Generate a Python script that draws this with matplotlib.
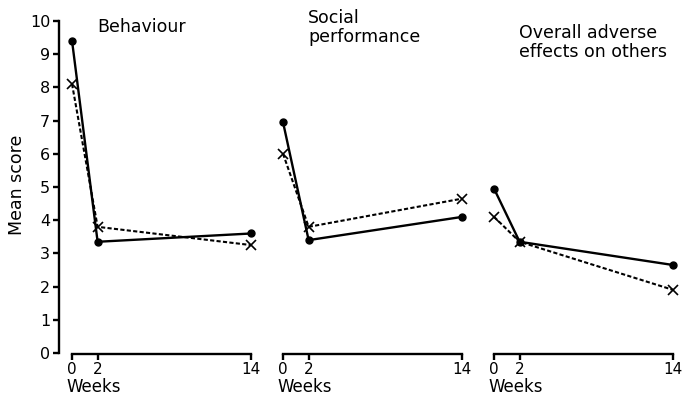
import matplotlib

matplotlib.use("Agg")
import matplotlib.pyplot as plt
from matplotlib.transforms import blended_transform_factory

weeks = [0, 2, 14]

titles = ["Behaviour", "Social\nperformance", "Overall adverse\neffects on others"]

# mean scores per panel: solid series (dots) and dashed series (crosses)
solid_scores = [
    [9.4, 3.35, 3.6],
    [6.95, 3.4, 4.1],
    [4.95, 3.35, 2.65],
]
dashed_scores = [
    [8.1, 3.8, 3.25],
    [6.0, 3.8, 4.65],
    [4.1, 3.35, 1.9],
]

y_ticks = list(range(0, 11))
x_ticks = [0, 2, 14]

plt.rcParams["font.family"] = ["DejaVu Sans"]

fig = plt.figure(figsize=(6.82, 4.01), dpi=100)
W, H = 682, 401
lefts = [58.6, 269.6, 480.6]
width = 199
bottom, height = 358, 347
title_tops = [0.98, 1.005, 0.962]

for i, left in enumerate(lefts):
    ax = fig.add_axes([left / W, (H - bottom) / H, width / W, height / H])
    ax.set_xlim(-1.05, 14.5)
    ax.set_ylim(-0.15, 10.3)

    ax.plot(weeks, solid_scores[i], color="black", lw=1.7, marker="o", ms=5,
            solid_capstyle="round")
    ax.plot(weeks, dashed_scores[i], color="black", lw=1.5, ls=(0, (2.0, 1.1)),
            marker="x", ms=6.5, mew=1.2)

    for side in ["top", "right"]:
        ax.spines[side].set_visible(False)
    ax.spines["bottom"].set_position(("data", -0.03))
    ax.spines["bottom"].set_bounds(0, 14)
    ax.spines["bottom"].set_linewidth(1.7)
    ax.set_xticks(x_ticks)
    ax.set_xticklabels(["0", "2", "14"])
    ax.tick_params(axis="x", direction="out", length=4, width=1.7, labelsize=11, pad=1.5)

    if i == 0:
        ax.spines["left"].set_bounds(0, 10)
        ax.spines["left"].set_linewidth(1.7)
        ax.set_yticks(y_ticks)
        ax.tick_params(axis="y", direction="out", length=4, width=1.7, labelsize=11.5, pad=2)
        ax.set_ylabel("Mean score", fontsize=12.5, labelpad=3)
    else:
        ax.spines["left"].set_visible(False)
        ax.set_yticks([])

    trans = blended_transform_factory(ax.transData, ax.transAxes)
    ax.text(-0.45, -0.058, "Weeks", transform=trans, fontsize=12,
            ha="left", va="top")
    ax.text(0.193, title_tops[i], titles[i], transform=ax.transAxes,
            fontsize=12.5, ha="left", va="top", linespacing=1.05)

fig.savefig("out.png", dpi=100)
